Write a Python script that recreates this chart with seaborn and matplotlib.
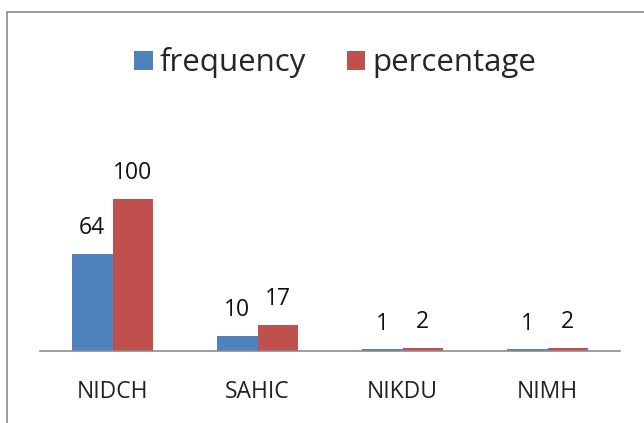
import pandas as pd
import seaborn as sns
import matplotlib.pyplot as plt
from matplotlib.patches import Rectangle

categories = ['NIDCH', 'SAHIC', 'NIKDU', 'NIMH']
frequency = [64, 10, 1, 1]
percentage = [100, 17, 2, 2]
series_names = ['frequency', 'percentage']
colors = ['#4F81BD', '#C0504D']

df = pd.DataFrame({
    'institute': categories * 2,
    'value': frequency + percentage,
    'series': [series_names[0]] * 4 + [series_names[1]] * 4,
})

sns.set_theme(style='white')
plt.rcParams['font.family'] = ['Open Sans', 'DejaVu Sans']

fig = plt.figure(figsize=(6.44, 4.23), dpi=100)
ax = fig.add_axes([40 / 644, 72 / 423, 580 / 644, 251 / 423])

sns.barplot(data=df, x='institute', y='value', hue='series', palette=colors,
            saturation=1, width=0.56, gap=0, linewidth=0, ax=ax, legend=True)

for cont in ax.containers:
    ax.bar_label(cont, padding=10, fontsize=16.5, color='#111111')

ax.set_xlim(-0.5, 3.5)
ax.set_ylim(0, 165)
ax.set_xlabel('')
ax.set_ylabel('')
ax.set_yticks([])
ax.tick_params(axis='x', length=0, labelsize=16.5, pad=21, colors='#222222')
for side in ['left', 'right', 'top']:
    ax.spines[side].set_visible(False)
ax.spines['bottom'].set_color('#8C8C8C')
ax.spines['bottom'].set_linewidth(1.2)

handles, labels = ax.get_legend_handles_labels()
ax.legend(handles, labels, loc='center', bbox_to_anchor=(335 / 644, 1 - 63 / 423),
          bbox_transform=fig.transFigure, ncol=2, frameon=False, fontsize=22.5,
          handlelength=0.6, handleheight=0.6, handletextpad=0.22, columnspacing=1.3,
          borderpad=0)

# chart frame
fig.patches.append(Rectangle((7 / 644, -0.2), 1.2, 1 - 12 / 423 + 0.2, transform=fig.transFigure,
                             fill=False, edgecolor='#8A8A8A', linewidth=1.2))

fig.savefig('out.png', dpi=100)
